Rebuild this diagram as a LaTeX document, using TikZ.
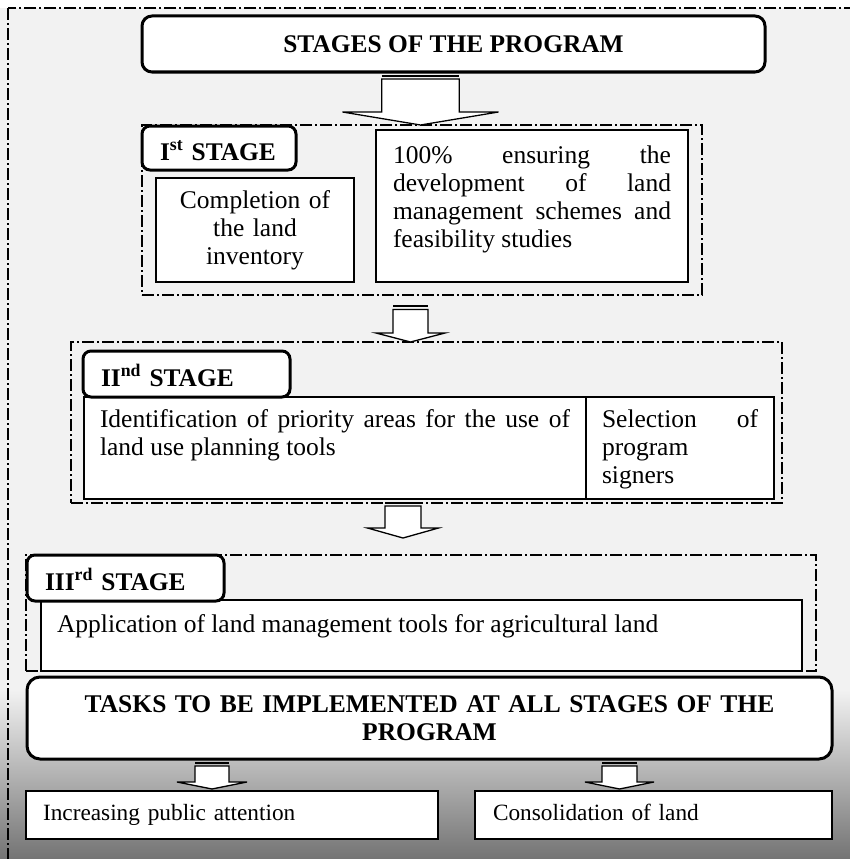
\documentclass[tikz,border=0pt]{standalone}
\usepackage{fontspec}
\setmainfont{Liberation Serif}
\usetikzlibrary{calc}

\definecolor{panel}{HTML}{F2F2F2}
\definecolor{panelshade}{HTML}{727272}

% text cell of fixed size, top aligned
\newcommand{\topcell}[4]{\parbox[c][#2][t]{#1}{\vspace*{#3}\strut #4}}

% hollow block arrow: top, tip, stem half width, head half width, head length
\newcommand{\blockarrow}[5]{%
  \filldraw[arrowbody]
    ($(#1)+(-#3,7)$) -- ($(#2)+(-#3,-#5)$) -- ($(#2)+(-#4,-#5)$) -- (#2)
    -- ($(#2)+(#4,-#5)$) -- ($(#2)+(#3,-#5)$) -- ($(#1)+(#3,7)$) -- cycle;
  \draw[arrowcap] ($(#1)+(-#3,3.6)$) -- ($(#1)+(#3,3.6)$);
}

\begin{document}
\begin{tikzpicture}[
  x=1pt, y=-1pt,
  every node/.style = {font=\fontsize{25.5}{28}\selectfont},
  plainbox/.style = {
    draw,
    line width=1.4pt,
    fill=white,
    anchor=north west,
    outer sep=0pt,
    inner ysep=0pt
  },
  headbox/.style = {
    draw,
    line width=3pt,
    fill=white,
    rounded corners=10pt,
    anchor=north west,
    outer sep=0pt,
    font=\bfseries\fontsize{25.4}{28}\selectfont
  },
  stagelabel/.style = {
    headbox,
    rounded corners=8pt,
    inner xsep=18pt,
    align=left,
    text height=24pt,
    text depth=0pt
  },
  stageframe/.style = {
    draw,
    line width=1.1pt,
    dash pattern=on 12pt off 3pt on 2pt off 3pt,
    anchor=north west,
    outer sep=0pt,
    inner sep=0pt
  },
  smalltext/.style = {
    font=\fontsize{23.3}{26}\selectfont,
    text height=16pt,
    text depth=5pt
  },
  arrowbody/.style = {draw, fill=white, line width=1.3pt, line join=miter},
  arrowcap/.style = {line width=1.8pt}
]

\useasboundingbox (0,0) rectangle (850,859);
\clip (0,0) rectangle (850,859);

% ======================================================
% PANEL
% ======================================================

\fill[panel] (0,8) rectangle (852,690);
\shade[top color=panel, bottom color=panelshade] (0,690) rectangle (852,861);
\draw[stageframe] (8,8) rectangle (860,870);

\node[headbox, minimum width=623pt, minimum height=56pt] (programme)
  at (142,16) {STAGES OF THE PROGRAM};

% ======================================================
% STAGE I
% ======================================================

\node[stageframe, minimum width=560pt, minimum height=170pt] (stageIframe) at (142,125) {};

\node[stagelabel, minimum width=154pt, minimum height=44pt, text width=118pt] (stageI)
  at (142,126) {I\textsuperscript{st} STAGE};

\node[plainbox, minimum width=198pt, minimum height=104pt, text width=182pt,
      inner xsep=8pt, align=center] (inventory)
  at (156,178) {Completion of\\ the land\\ inventory};

\node[plainbox, minimum width=312pt, minimum height=152pt, inner xsep=17pt] (schemes)
  at (376,130) {\topcell{278pt}{152pt}{13.4pt}{100\% ensuring the\linebreak
    development of land\linebreak management schemes and\linebreak feasibility studies}};

% ======================================================
% STAGE II
% ======================================================

\node[stageframe, minimum width=711pt, minimum height=161pt] (stageIIframe) at (71,342) {};

\node[plainbox, minimum width=502pt, minimum height=102pt, inner xsep=16pt] (priority)
  at (84,397) {\topcell{470pt}{102pt}{10.4pt}{Identification of priority areas for the use of\linebreak
    land use planning tools}};

\node[plainbox, minimum width=188pt, minimum height=102pt, inner xsep=16pt] (signers)
  at (586,397) {\topcell{156pt}{102pt}{10.4pt}{Selection of\linebreak program\newline signers}};

\node[stagelabel, minimum width=207pt, minimum height=46pt, text width=171pt] (stageII)
  at (83,351) {II\textsuperscript{nd} STAGE};

% ======================================================
% STAGE III
% ======================================================

\node[stageframe, minimum width=790pt, minimum height=116pt] (stageIIIframe) at (26,555) {};

\node[plainbox, minimum width=761pt, minimum height=71pt, inner xsep=16pt] (agriland)
  at (41,600) {\topcell{729pt}{71pt}{12.4pt}{Application of land management tools for agricultural land}};

\node[stagelabel, minimum width=197pt, minimum height=46pt, text width=161pt] (stageIII)
  at (27,555) {III\textsuperscript{rd} STAGE};

% ======================================================
% TASKS FOR ALL STAGES
% ======================================================

\node[headbox, rounded corners=13pt, minimum width=805pt, minimum height=82pt,
      text width=761pt, inner xsep=12pt, align=center,
      font=\bfseries\fontsize{25.5}{27.5}\selectfont] (tasks)
  at (27,677) {TASKS TO BE IMPLEMENTED AT ALL STAGES OF THE\\ PROGRAM};

\node[plainbox, smalltext, minimum width=412pt, minimum height=48pt, text width=378pt,
      inner xsep=17pt, align=left] (publicity)
  at (26,791) {Increasing public attention};

\node[plainbox, smalltext, minimum width=357pt, minimum height=48pt, text width=321pt,
      inner xsep=18pt, align=left] (consolidation)
  at (475,791) {Consolidation of land};

% ======================================================
% ARROWS
% ======================================================

\coordinate (arrowItop) at (420.5,0 |- programme.south);
\coordinate (arrowItip) at (420.5,0 |- stageIframe.north);
\blockarrow{arrowItop}{arrowItip}{38.8}{78}{13}

\coordinate (arrowIItop) at ($(410.5,0 |- stageIframe.south)+(0,7.5)$);
\coordinate (arrowIItip) at (410.5,0 |- stageIIframe.north);
\blockarrow{arrowIItop}{arrowIItip}{17.5}{34.5}{9}

\coordinate (arrowIIItop) at ($(403,0 |- stageIIframe.south)+(0,-4)$);
\coordinate (arrowIIItip) at ($(403,0 |- stageIIIframe.north)+(0,-17)$);
\blockarrow{arrowIIItop}{arrowIIItip}{18}{35.5}{10}

\coordinate (arrowLtop) at (212,0 |- tasks.south);
\coordinate (arrowLtip) at ($(212,0 |- publicity.north)+(0,-2)$);
\blockarrow{arrowLtop}{arrowLtip}{17}{35}{7}

\coordinate (arrowRtop) at (619.5,0 |- tasks.south);
\coordinate (arrowRtip) at ($(619.5,0 |- consolidation.north)+(0,-2)$);
\blockarrow{arrowRtop}{arrowRtip}{17.5}{34.5}{7}

\end{tikzpicture}
\end{document}
